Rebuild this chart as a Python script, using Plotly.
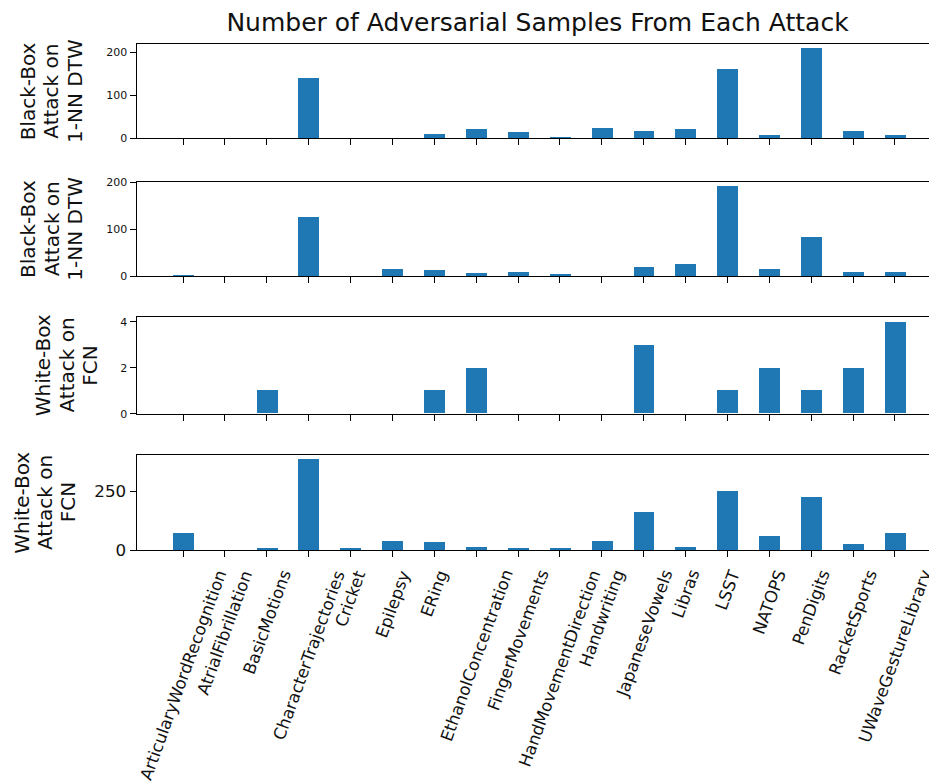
import plotly.graph_objects as go
from plotly.subplots import make_subplots

categories = ["ArticularyWordRecognition", "AtrialFibrillation", "BasicMotions",
              "CharacterTrajectories", "Cricket", "Epilepsy", "ERing",
              "EthanolConcentration", "FingerMovements", "HandMovementDirection",
              "Handwriting", "JapaneseVowels", "Libras", "LSST", "NATOPS",
              "PenDigits", "RacketSports", "UWaveGestureLibrary"]

blackbox_a = [0, 0, 0, 139, 0, 0, 11, 21, 15, 4, 25, 18, 21, 161, 8, 209, 18, 8]
blackbox_b = [3, 0, 0, 126, 0, 16, 14, 7, 10, 4, 0, 20, 26, 192, 16, 84, 10, 10]
whitebox_a = [0, 0, 1, 0, 0, 0, 1, 2, 0, 0, 0, 3, 0, 1, 2, 1, 2, 4]
whitebox_b = [71, 0, 7, 385, 7, 39, 32, 14, 7, 7, 39, 161, 14, 251, 58, 226, 27, 71]

series = [blackbox_a, blackbox_b, whitebox_a, whitebox_b]
y_title_lines = [["Black-Box", "Attack on", "1-NN DTW"],
                 ["Black-Box", "Attack on", "1-NN DTW"],
                 ["White-Box", "Attack on", "FCN"],
                 ["White-Box", "Attack on", "FCN"]]
y_ticks = [[0, 100, 200], [0, 100, 200], [0, 2, 4], [0, 250]]
y_max = [219, 201.6, 4.2, 404]
title = "Number of Adversarial Samples From Each Attack"

# page has an 8px body margin; work in screen pixels and convert
OFF = 8
W, H = 937 - OFF, 783 - OFF
def fx(px):
    return (px - OFF) / W
def fy(py):
    return 1 - (py - OFF) / H

FONT = "DejaVu Sans"
BLUE = "#1f77b4"
TXT = "#111111"

fig = make_subplots(rows=4, cols=1)
x_idx = list(range(len(categories)))

panels_px = [(44, 138.3), (181.7, 276), (317.3, 413.7), (455, 550)]
title_x_px = [51.5, 51.5, 66, 44.5]
line_gap = 23.3
tick_font_sizes = [11, 11, 11, 16.7]

x_left_px = 136.7
x0_px, step_px = 183.0, 41.88
x_range = [(x_left_px - x0_px) / step_px, (937 - x0_px) / step_px]

annotations = []
for i, vals in enumerate(series):
    r = i + 1
    fig.add_trace(go.Bar(x=x_idx, y=[v if v else None for v in vals], width=0.5,
                         marker=dict(color=BLUE, line=dict(width=0)),
                         showlegend=False), row=r, col=1)
    top, bot = panels_px[i]
    dom = [fy(bot), fy(top)]
    xa = "xaxis" if r == 1 else f"xaxis{r}"
    ya = "yaxis" if r == 1 else f"yaxis{r}"
    fig.layout[xa].update(domain=[fx(x_left_px), 1], range=x_range, automargin=False,
                          tickmode="array", tickvals=x_idx, showticklabels=False,
                          ticks="outside", ticklen=6, tickwidth=1.3, tickcolor="black",
                          showline=True, linecolor="black", linewidth=1.3, mirror=True,
                          showgrid=False, zeroline=False)
    fig.layout[ya].update(domain=dom, range=[0, y_max[i]], automargin=False,
                          tickmode="array", tickvals=y_ticks[i],
                          ticks="outside", ticklen=6, tickwidth=1.3, tickcolor="black",
                          showline=True, linecolor="black", linewidth=1.3, mirror=False,
                          showgrid=False, zeroline=False,
                          tickfont=dict(family=FONT, size=tick_font_sizes[i], color=TXT))
    yc = (dom[0] + dom[1]) / 2
    for j, line in enumerate(y_title_lines[i]):
        annotations.append(dict(text=line, xref="paper", yref="paper",
                                x=fx(title_x_px[i] + (j - 1) * line_gap), y=yc,
                                xanchor="center", yanchor="middle", textangle=-90,
                                showarrow=False, borderpad=0,
                                font=dict(family=FONT, size=20, color=TXT)))

# x tick labels (rotated 70°, centered under each tick like matplotlib)
for k, name in enumerate(categories):
    annotations.append(dict(text=name, xref="x4", yref="paper",
                            x=k, y=fy(566), xanchor="center", yanchor="top",
                            textangle=-70, showarrow=False, borderpad=0,
                            font=dict(family=FONT, size=16.7, color=TXT)))

fig.update_layout(width=W, height=H, margin=dict(l=0, r=0, t=0, b=0, autoexpand=False),
                  plot_bgcolor="white", paper_bgcolor="white",
                  bargap=0,
                  title=dict(text=title, x=fx(537.5), xanchor="center",
                             y=fy(22), yanchor="middle", automargin=False,
                             font=dict(family=FONT, size=25, color=TXT)),
                  annotations=annotations)

fig.write_html("out.html")
